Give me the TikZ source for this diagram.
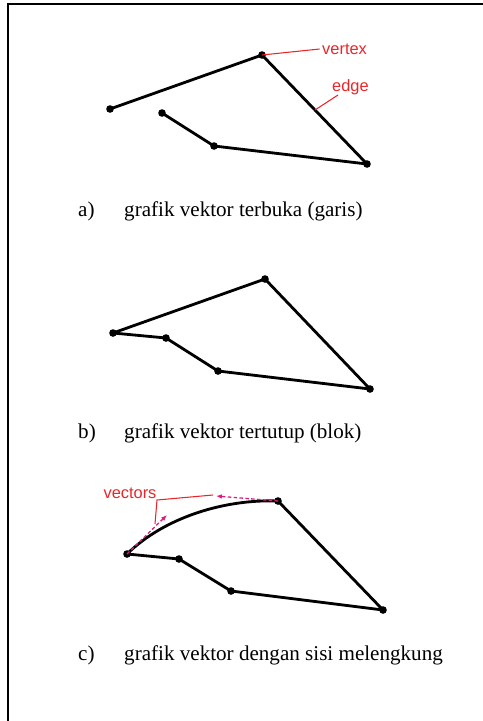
\documentclass[tikz,border=0pt]{standalone}
\usepackage{fontspec}
\setmainfont{Liberation Serif}
\setsansfont{Liberation Sans}
\usetikzlibrary{arrows.meta,positioning}
\definecolor{labelRed}{RGB}{232,38,42}
\definecolor{vecMagenta}{RGB}{222,28,128}

\begin{document}
\begin{tikzpicture}[
  x=0.03cm,y=-0.03cm,
  vtx/.style={circle,fill=black,inner sep=0pt,minimum size=6.5pt},
  poly/.style={line width=2.4pt,line join=round},
  lead/.style={draw=labelRed,line width=0.9pt},
  tag/.style={font=\sffamily\fontsize{14}{16}\selectfont,text=labelRed,inner sep=0pt},
  capt/.style={font=\fontsize{18}{20}\selectfont,inner sep=0pt,anchor=base west},
  vec/.style={draw=vecMagenta,line width=1.1pt,dash pattern=on 3pt off 2pt,-{Latex[length=5pt,width=4pt]}}
]
  \useasboundingbox (0,0) rectangle (483,721);
  % frame
  \draw[line width=1.8pt] (483,4) -- (8,4) -- (8,721);

  % a) open vector graphic
  \node[vtx] (a1) at (110,109) {};
  \node[vtx] (a2) at (262,55) {};
  \node[vtx] (a3) at (367,164) {};
  \node[vtx] (a4) at (214,146) {};
  \node[vtx] (a5) at (162,113) {};
  \draw[poly] (a1.center) -- (a2.center) -- (a3.center) -- (a4.center) -- (a5.center);

  \node[tag,anchor=west] (vtxtag) at (322,49) {vertex};
  \node[tag,anchor=west] (edgetag) at (332,87) {edge};
  \coordinate (onedge) at (315,110);
  \coordinate (edgeend) at (338,95);
  \draw[lead] (a2.center) -- ([xshift=-2pt]vtxtag.west);
  \draw[lead] (onedge) -- (edgeend);

  \node[capt] (capa) at (78,216) {a)};
  \node[capt] (texta) at (124,216) {grafik vektor terbuka (garis)};

  % b) closed vector graphic
  \node[vtx] (b1) at (113,333) {};
  \node[vtx] (b2) at (265,279) {};
  \node[vtx] (b3) at (370,389) {};
  \node[vtx] (b4) at (218,371) {};
  \node[vtx] (b5) at (166,338) {};
  \draw[poly] (b1.center) -- (b2.center) -- (b3.center) -- (b4.center) -- (b5.center) -- cycle;

  \node[capt] (capb) at (78,438) {b)};
  \node[capt] (textb) at (124,438) {grafik vektor tertutup (blok)};

  % c) curved side
  \node[vtx] (c1) at (127,554) {};
  \node[vtx] (c2) at (278,501) {};
  \node[vtx] (c3) at (383,610) {};
  \node[vtx] (c4) at (231,591) {};
  \node[vtx] (c5) at (179,559) {};
  \draw[poly] (c2.center) -- (c3.center) -- (c4.center) -- (c5.center) -- (c1.center)
    .. controls (165,517) and (225,499) .. (c2.center);

  \coordinate (vtip1) at (167,515);
  \coordinate (vtip2) at (216,496);
  \draw[vec] (c1.center) -- (vtip1);
  \draw[vec] (c2.center) -- (vtip2);

  \node[tag] (vectag) at (130,493) {vectors};
  \draw[lead] (155,524) -- (157,500) -- (213,495);

  \node[capt] (capc) at (78,660) {c)};
  \node[capt] (textc) at (124,660) {grafik vektor dengan sisi melengkung};
\end{tikzpicture}
\end{document}
